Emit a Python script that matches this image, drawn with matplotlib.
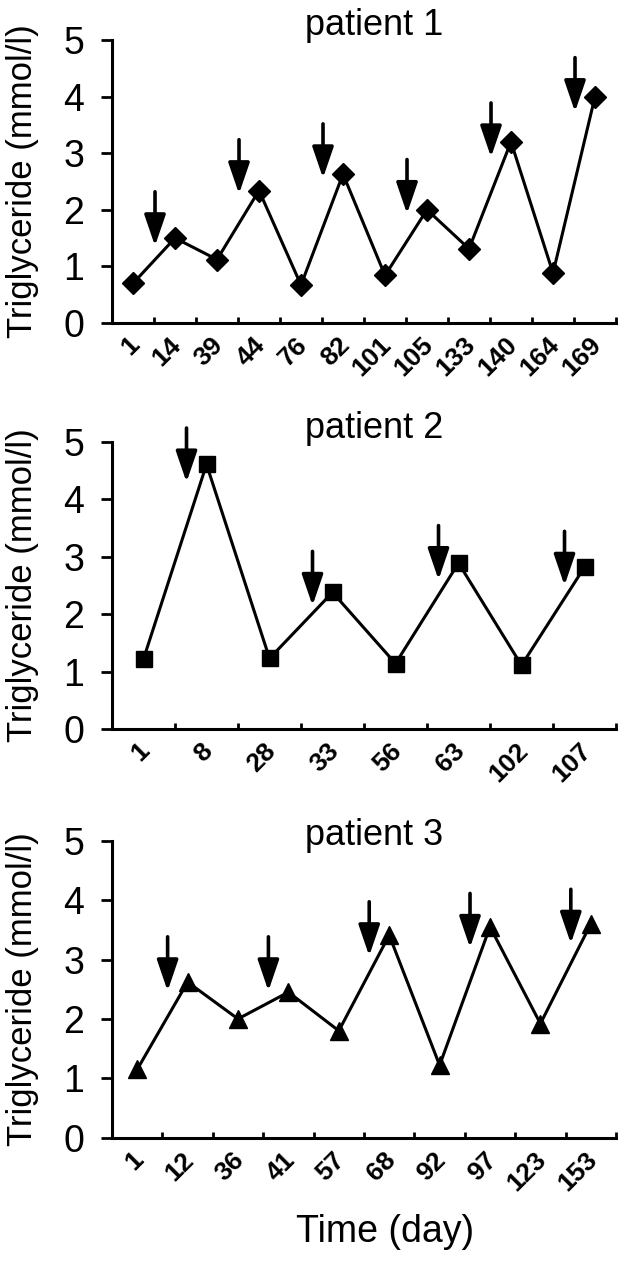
import matplotlib.pyplot as plt
from matplotlib.transforms import ScaledTranslation

plt.rcParams['font.family'] = ['Liberation Sans', 'DejaVu Sans']

# patient 1
p1_days = ['1', '14', '39', '44', '76', '82', '101', '105', '133', '140', '164', '169']
p1_tg = [0.70, 1.50, 1.12, 2.34, 0.67, 2.63, 0.84, 2.00, 1.31, 3.20, 0.88, 4.00]
p1_arrow_at = [1, 3, 5, 7, 9, 11]
p1_arrow_tip = [1.36, 2.28, 2.56, 1.93, 2.93, 3.73]

# patient 2
p2_days = ['1', '8', '28', '33', '56', '63', '102', '107']
p2_tg = [1.22, 4.61, 1.23, 2.38, 1.14, 2.89, 1.11, 2.82]
p2_arrow_at = [1, 3, 5, 7]
p2_arrow_tip = [4.30, 2.15, 2.60, 2.50]

# patient 3
p3_days = ['1', '12', '36', '41', '57', '68', '92', '97', '123', '153']
p3_tg = [1.15, 2.62, 2.00, 2.45, 1.80, 3.41, 1.22, 3.55, 1.92, 3.60]
p3_arrow_at = [1, 3, 5, 7, 9]
p3_arrow_tip = [2.47, 2.47, 3.06, 3.20, 3.27]

panels = [
    ('patient 1', p1_days, p1_tg, p1_arrow_at, p1_arrow_tip, 'D', 11, [0.1778, 0.7445, 0.8, 0.2239], 5),
    ('patient 2', p2_days, p2_tg, p2_arrow_at, p2_arrow_tip, 's', 12, [0.1778, 0.4233, 0.8, 0.2270], 4),
    ('patient 3', p3_days, p3_tg, p3_arrow_at, p3_arrow_tip, '^', 13, [0.1778, 0.0999, 0.8, 0.2350], -4),
]

fig = plt.figure(figsize=(6.3, 12.64), dpi=100)

for title, days, tg, arrow_at, arrow_tip, marker, ms, rect, title_off in panels:
    ax = fig.add_axes(rect)
    x = list(range(len(days)))
    ax.plot(x, tg, color='black', lw=2.2, marker=marker, ms=ms, clip_on=False, zorder=3)

    ax.set_xlim(-0.5, len(days) - 0.5)
    ax.set_ylim(0, 5)
    ax.set_yticks([0, 1, 2, 3, 4, 5])
    ax.set_xticks(x)
    ax.set_xticklabels(days, rotation=45, ha='right', fontsize=19, fontweight='bold')
    ax.set_xticks([i + 0.5 for i in x], minor=True)
    ax.tick_params(axis='x', which='major', length=0, pad=7)
    for lab in ax.get_xticklabels():
        lab.set_transform(lab.get_transform() + ScaledTranslation(11 / 100, 0, fig.dpi_scale_trans))
    ax.tick_params(axis='x', which='minor', direction='in', length=4, width=2)
    ax.tick_params(axis='y', direction='out', length=8, width=2, labelsize=27, pad=12)

    for side in ['top', 'right']:
        ax.spines[side].set_visible(False)
    for side in ['left', 'bottom']:
        ax.spines[side].set_linewidth(2.2)

    ax.set_ylabel('Triglyceride (mmol/l)', fontsize=25)
    ax.yaxis.set_label_coords(-0.145, 0.5)

    ax.annotate(title, xy=(0.52, 1.0), xycoords='axes fraction',
                xytext=(0, title_off), textcoords='offset pixels',
                ha='center', va='baseline', fontsize=26)

    # arrows sit just left of the marked visit
    shift = ax.transData + ScaledTranslation(-20 / 100, 0, fig.dpi_scale_trans)
    for idx, tip in zip(arrow_at, arrow_tip):
        ax.annotate('', xy=(idx, tip), xycoords=shift,
                    xytext=(0, 39), textcoords='offset points',
                    arrowprops=dict(arrowstyle='-|>,head_length=1.9,head_width=0.65',
                                    mutation_scale=10, lw=2.6, color='black',
                                    shrinkA=0, shrinkB=0),
                    annotation_clip=False)

fig.text(0.611, 0.025, 'Time (day)', ha='center', va='center', fontsize=27)

plt.savefig('out.png', dpi=100)
